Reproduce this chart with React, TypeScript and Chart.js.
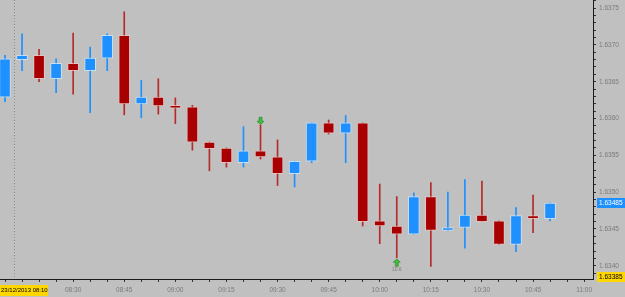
import React, { useEffect, useRef } from 'react';
import { Chart, registerables } from 'chart.js';

Chart.register(...registerables);

// ---- data ----
const dateLabel = '23/12/2013 08:10';
const startTime = '08:10';
const barTimes = [
  '08:10', '08:15', '08:20', '08:25', '08:30', '08:35', '08:40', '08:45', '08:50', '08:55', '09:00',
  '09:05', '09:10', '09:15', '09:20', '09:25', '09:30', '09:35', '09:40', '09:45', '09:50', '09:55',
  '10:00', '10:05', '10:10', '10:15', '10:20', '10:25', '10:30', '10:35', '10:40', '10:45', '10:50',
];
const opens = [
  1.63629, 1.6368, 1.63686, 1.63654, 1.63675, 1.63665, 1.63682, 1.63713, 1.6362, 1.63629, 1.63618,
  1.63616, 1.63568, 1.6356, 1.6354, 1.63556, 1.63548, 1.63525, 1.63542, 1.63594, 1.6358, 1.63594,
  1.63461, 1.63454, 1.63443, 1.63494, 1.63448, 1.63452, 1.63469, 1.63461, 1.63429, 1.63468, 1.63464,
];
const highs = [
  1.63686, 1.63715, 1.63694, 1.63681, 1.63716, 1.63697, 1.63715, 1.63745, 1.63652, 1.63654, 1.63628,
  1.63618, 1.63568, 1.6356, 1.63589, 1.63591, 1.63571, 1.63542, 1.63594, 1.63598, 1.63604, 1.63594,
  1.63511, 1.63494, 1.63499, 1.63513, 1.635, 1.63517, 1.63515, 1.63461, 1.63479, 1.63496, 1.63485,
];
const lows = [
  1.63623, 1.63665, 1.6365, 1.63635, 1.63633, 1.63608, 1.63665, 1.63605, 1.63601, 1.63606, 1.63593,
  1.63557, 1.63529, 1.63534, 1.63534, 1.63545, 1.63509, 1.63507, 1.6354, 1.63579, 1.6354, 1.63454,
  1.6343, 1.63411, 1.63443, 1.63399, 1.63448, 1.63424, 1.6346, 1.63429, 1.63419, 1.63445, 1.63461,
];
const closes = [
  1.63681, 1.63686, 1.63654, 1.63675, 1.63665, 1.63682, 1.63713, 1.6362, 1.63629, 1.63617, 1.63614,
  1.63568, 1.63559, 1.6354, 1.63556, 1.63548, 1.63525, 1.63542, 1.63594, 1.6358, 1.63594, 1.6346,
  1.63454, 1.63443, 1.63494, 1.63448, 1.63452, 1.63469, 1.6346, 1.63429, 1.63468, 1.63464, 1.63485,
];
const yTickValues = [1.634, 1.6345, 1.635, 1.6355, 1.636, 1.6365, 1.637, 1.6375];
const xLabelTimes = ['08:30', '08:45', '09:00', '09:15', '09:30', '09:45', '10:00', '10:15', '10:30', '10:45', '11:00'];
const currentPrice = 1.63485;
const markedLowPrice = 1.63385;
const arrowTimes = ['09:25', '10:05'];
const arrowPrices = [1.63597, 1.63404];
const arrowDirs = ['down', 'up'];
const arrowTexts = ['', '10.6'];
const separatorTime = '08:12:30';

// ---- helpers ----
const toMin = (t: string) => {
  const p = t.split(':').map(Number);
  return p[0] * 60 + p[1] + (p[2] || 0) / 60;
};
const minutesFromStart = (t: string) => toMin(t) - toMin(startTime);
const xMin = -1.47;
const xMax = 172.6;
const yMin = 1.63382;
const yMax = 1.63761;

const UP = '#1E90FF';
const DOWN = '#A80000';
const FONT = "'Liberation Sans', Arial, sans-serif";

function drawArrow(ctx: CanvasRenderingContext2D, x: number, y: number, dir: string) {
  const s = dir === 'up' ? 1 : -1;
  ctx.beginPath();
  ctx.moveTo(x, y - 4 * s);
  ctx.lineTo(x + 3.5, y - 0.5 * s);
  ctx.lineTo(x + 1.5, y - 0.5 * s);
  ctx.lineTo(x + 1.5, y + 3.5 * s);
  ctx.lineTo(x - 1.5, y + 3.5 * s);
  ctx.lineTo(x - 1.5, y - 0.5 * s);
  ctx.lineTo(x - 3.5, y - 0.5 * s);
  ctx.closePath();
  ctx.fillStyle = '#3DBE3D';
  ctx.fill();
  ctx.lineWidth = 0.6;
  ctx.strokeStyle = '#2E7D2E';
  ctx.stroke();
}

const bgPlugin = {
  id: 'mtBackground',
  beforeDraw(chart: any) {
    const { ctx, width, height } = chart;
    ctx.save();
    ctx.fillStyle = '#C0C0C0';
    ctx.fillRect(0, 0, width, height);
    ctx.restore();
  },
  beforeDatasetsDraw(chart: any) {
    const { ctx, chartArea, scales } = chart;
    const x = Math.round(scales.x.getPixelForValue(minutesFromStart(separatorTime))) + 0.5;
    ctx.save();
    ctx.strokeStyle = '#8C8C8C';
    ctx.lineWidth = 1;
    ctx.setLineDash([1, 2]);
    ctx.beginPath();
    ctx.moveTo(x, chartArea.top);
    ctx.lineTo(x, chartArea.bottom);
    ctx.stroke();
    ctx.restore();
  },
  afterDraw(chart: any) {
    const { ctx, scales, chartArea, width } = chart;
    ctx.save();
    // arrows
    arrowTimes.forEach((t, i) => {
      const x = scales.x.getPixelForValue(minutesFromStart(t));
      const y = scales.y.getPixelForValue(arrowPrices[i]);
      drawArrow(ctx, x, y, arrowDirs[i]);
      if (arrowTexts[i]) {
        ctx.fillStyle = '#7A7A7A';
        ctx.font = `5px ${FONT}`;
        ctx.textAlign = 'center';
        ctx.textBaseline = 'middle';
        ctx.fillText(arrowTexts[i], x, y + 6.5);
      }
    });
    // price boxes
    const boxes = [
      { v: currentPrice, bg: UP, fg: '#FFFFFF' },
      { v: markedLowPrice, bg: '#FFD700', fg: '#000000' },
    ];
    ctx.font = `6.5px ${FONT}`;
    ctx.textAlign = 'left';
    ctx.textBaseline = 'middle';
    boxes.forEach((b) => {
      const y = Math.round(scales.y.getPixelForValue(b.v));
      ctx.fillStyle = b.bg;
      ctx.fillRect(chartArea.right + 4, y - 5, width - chartArea.right - 4, 10);
      ctx.fillStyle = b.fg;
      ctx.fillText(b.v.toFixed(5), chartArea.right + 6, y + 0.5);
    });
    // date box
    const dy = scales.x.top + 6;
    ctx.fillStyle = '#FFD700';
    ctx.fillRect(0, dy, 48, 11);
    ctx.fillStyle = '#000000';
    ctx.font = `6px ${FONT}`;
    ctx.fillText(dateLabel, 1, dy + 5.5);
    ctx.restore();
  },
};

export default function App() {
  const ref = useRef<HTMLCanvasElement | null>(null);
  useEffect(() => {
    document.body.style.margin = '0';
    const canvas = ref.current;
    if (!canvas) return;
    const mins = barTimes.map(minutesFromStart);
    const isUp = closes.map((c, i) => c >= opens[i]);
    const xTickMins: number[] = [];
    for (let m = 0; m <= 170; m += 5) xTickMins.push(m);
    const yMinor: number[] = [];
    for (let k = 16339; k <= 16376; k++) yMinor.push(k / 10000);
    const xLabelMins = xLabelTimes.map(minutesFromStart);

    const chart = new Chart(canvas, {
      type: 'bar',
      data: {
        datasets: [
          {
            label: 'body',
            data: mins.map((m, i) => ({ x: m, y: [opens[i], closes[i]] })) as any,
            backgroundColor: isUp.map((u) => (u ? UP : DOWN)),
            borderColor: isUp.map((u) => (u ? 'rgba(210,235,255,0.75)' : 'rgba(240,200,200,0.7)')),
            borderWidth: 1,
            borderSkipped: false,
            barThickness: 11,
            grouped: false,
          },
          {
            label: 'wick',
            data: mins.map((m, i) => ({ x: m, y: [lows[i], highs[i]] })) as any,
            backgroundColor: isUp.map((u) => (u ? UP : '#B52A2A')),
            borderWidth: 0,
            barThickness: 1,
            grouped: false,
          },
        ],
      },
      options: {
        animation: false,
        responsive: false,
        maintainAspectRatio: false,
        layout: { padding: 0 },
        plugins: { legend: { display: false }, tooltip: { enabled: false } },
        scales: {
          x: {
            type: 'linear',
            min: xMin,
            max: xMax,
            offset: false,
            position: 'bottom',
            grid: { display: true, drawOnChartArea: false, drawTicks: true, tickLength: 3, color: '#333333', offset: false },
            border: { display: true, color: '#1A1A1A', width: 1 },
            ticks: {
              autoSkip: false,
              maxRotation: 0,
              minRotation: 0,
              padding: 4,
              color: '#7A7A7A',
              font: { family: FONT, size: 6.5 },
              callback: (v: any) => {
                const idx = xLabelMins.findIndex((m) => Math.abs(m - Number(v)) < 0.01);
                return idx >= 0 ? xLabelTimes[idx] : '';
              },
            },
            afterBuildTicks: (s: any) => {
              s.ticks = xTickMins.map((v) => ({ value: v }));
            },
            afterFit: (s: any) => {
              s.height = 18;
              s.paddingLeft = 0;
              s.paddingRight = 0;
              s.paddingTop = 0;
              s.paddingBottom = 0;
            },
          } as any,
          y: {
            type: 'linear',
            position: 'right',
            min: yMin,
            max: yMax,
            grid: { display: true, drawOnChartArea: false, drawTicks: true, tickLength: 3, color: '#333333' },
            border: { display: true, color: '#1A1A1A', width: 1 },
            ticks: {
              autoSkip: false,
              padding: 3,
              color: '#7A7A7A',
              font: { family: FONT, size: 6.5 },
              callback: (v: any) => {
                const hit = yTickValues.find((t) => Math.abs(t - Number(v)) < 1e-7);
                return hit !== undefined ? hit.toFixed(4) : '';
              },
            },
            afterBuildTicks: (s: any) => {
              s.ticks = yMinor.filter((v) => v >= yMin && v <= yMax).map((v) => ({ value: v }));
            },
            afterFit: (s: any) => {
              s.width = 32;
              s.paddingLeft = 0;
              s.paddingRight = 0;
              s.paddingTop = 0;
              s.paddingBottom = 0;
            },
          } as any,
        },
      },
      plugins: [bgPlugin],
    });
    return () => chart.destroy();
  }, []);

  return (
    <div style={{ width: 625, height: 297 }}>
      <canvas ref={ref} width={625} height={297} style={{ display: 'block' }} />
    </div>
  );
}
